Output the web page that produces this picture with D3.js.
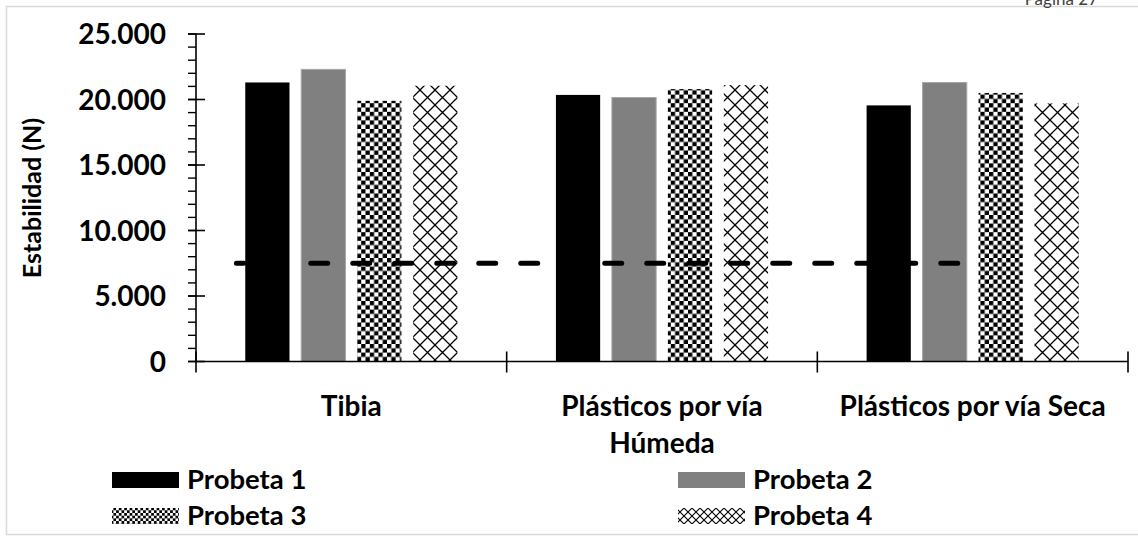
<!DOCTYPE html>
<html>
<head>
<meta charset="utf-8">
<script src="https://cdn.jsdelivr.net/npm/d3@7"></script>
<style>
  body { margin: 0; background: #fff; }
  svg { display: block; font-family: Lato, "Open Sans", sans-serif; }
</style>
</head>
<body>
<div id="chart"></div>
<script>
// data
var categories = ["Tibia", "Plásticos por vía Húmeda", "Plásticos por vía Seca"];
var categoryLines = [["Tibia"], ["Plásticos por vía", "Húmeda"], ["Plásticos por vía Seca"]];
var series = ["Probeta 1", "Probeta 2", "Probeta 3", "Probeta 4"];
var probeta1 = [21300, 20350, 19550];
var probeta2 = [22300, 20150, 21300];
var probeta3 = [19900, 20800, 20500];
var probeta4 = [21050, 21100, 19700];
var yTicks = [0, 5000, 10000, 15000, 20000, 25000];
var refValue = 7500;       // dashed reference line
var refSpan = [0.13, 2.46]; // where it runs, in category units

var values = [probeta1, probeta2, probeta3, probeta4];

var chart_width = 1138;
var chart_height = 536;

var svg = d3.select('#chart')
    .append('svg')
    .attr('width', chart_width)
    .attr('height', chart_height);

svg.append('rect')
    .attr('width', chart_width)
    .attr('height', chart_height)
    .attr('fill', '#fff');

// patterns
var defs = svg.append('defs');

function checker(id, s) {
    var p = defs.append('pattern').attr('id', id)
        .attr('patternUnits', 'userSpaceOnUse')
        .attr('width', s * 2).attr('height', s * 2);
    p.append('rect').attr('width', s * 2).attr('height', s * 2).attr('fill', '#fff');
    p.append('rect').attr('width', s).attr('height', s).attr('fill', '#000');
    p.append('rect').attr('x', s).attr('y', s).attr('width', s).attr('height', s).attr('fill', '#000');
}
function cross(id, s, w) {
    var p = defs.append('pattern').attr('id', id)
        .attr('patternUnits', 'userSpaceOnUse')
        .attr('width', s).attr('height', s);
    p.append('rect').attr('width', s).attr('height', s).attr('fill', '#fff');
    p.append('path')
        .attr('d', 'M0,0L' + s + ',' + s + 'M' + s + ',0L0,' + s)
        .attr('stroke', '#000')
        .attr('stroke-width', w);
}
checker('chk', 4.3);
checker('chkSmall', 2.7);
cross('crs', 15, 1.3);
cross('crsSmall', 8, 1.1);

var fills = ['#000000', '#808080', 'url(#chk)', 'url(#crs)'];
var legendFills = ['#000000', '#808080', 'url(#chkSmall)', 'url(#crsSmall)'];
var strokes = ['none', '#a6a6a6', 'none', 'none'];

// frame
svg.append('rect')
    .attr('x', 6.5).attr('y', 6.5)
    .attr('width', 1140).attr('height', 528)
    .attr('fill', 'none')
    .attr('stroke', '#d9d9d9')
    .attr('stroke-width', 1.5);

svg.append('text')
    .text('Página 27')
    .attr('x', 1098).attr('y', 5)
    .attr('text-anchor', 'end')
    .attr('font-size', 17)
    .attr('fill', '#404040');

// scales
var plotLeft = 196, plotRight = 1128, plotTop = 34, plotBottom = 361.5;

var x0 = d3.scaleBand()
    .domain(categories)
    .range([plotLeft, plotRight])
    .paddingInner(0).paddingOuter(0);

var x1 = d3.scaleBand()
    .domain(series)
    .range([0, x0.bandwidth()])
    .paddingInner(0.21).paddingOuter(0.88);

var xc = d3.scaleLinear().domain([0, categories.length]).range([plotLeft, plotRight]);

var y = d3.scaleLinear().domain([0, 25000]).range([plotBottom, plotTop]);

var fmt = d3.formatLocale({decimal: ',', thousands: '.', grouping: [3], currency: ['', '']}).format(',d');

// bars
series.forEach(function (s, i) {
    svg.append('g').selectAll('rect')
        .data(values[i])
        .enter().append('rect')
        .attr('x', function (d, j) { return x0(categories[j]) + x1(s); })
        .attr('y', function (d) { return y(d); })
        .attr('width', x1.bandwidth())
        .attr('height', function (d) { return y(0) - y(d); })
        .attr('fill', fills[i])
        .attr('stroke', strokes[i])
        .attr('stroke-width', 1);
});

// dashed reference line, drawn right to left so it ends on a dash
svg.append('line')
    .attr('x1', xc(refSpan[1]) - 2.5).attr('x2', xc(refSpan[0]))
    .attr('y1', y(refValue)).attr('y2', y(refValue))
    .attr('stroke', '#000')
    .attr('stroke-width', 5)
    .attr('stroke-linecap', 'round')
    .attr('stroke-dasharray', '17,25');

// y axis
var yAxis = svg.append('g');
yAxis.append('line')
    .attr('x1', plotLeft).attr('x2', plotLeft)
    .attr('y1', y(25000)).attr('y2', y(0))
    .attr('stroke', '#000').attr('stroke-width', 1.6);
yAxis.selectAll('.minor')
    .data(d3.range(0, 25001, 1000))
    .enter().append('line')
    .attr('x1', plotLeft - 8).attr('x2', plotLeft)
    .attr('y1', function (d) { return y(d); }).attr('y2', function (d) { return y(d); })
    .attr('stroke', '#000').attr('stroke-width', 1.4);
yAxis.selectAll('.major')
    .data(yTicks)
    .enter().append('line')
    .attr('x1', plotLeft - 8).attr('x2', plotLeft + 9)
    .attr('y1', function (d) { return y(d); }).attr('y2', function (d) { return y(d); })
    .attr('stroke', '#000').attr('stroke-width', 1.6);
yAxis.selectAll('text')
    .data(yTicks)
    .enter().append('text')
    .text(function (d) { return fmt(d); })
    .attr('x', 166)
    .attr('y', function (d) { return y(d); })
    .attr('dy', '0.36em')
    .attr('text-anchor', 'end')
    .attr('font-size', 28)
    .attr('font-weight', 'bold');

svg.append('text')
    .text('Estabilidad (N)')
    .attr('transform', 'translate(41,198) rotate(-90)')
    .attr('text-anchor', 'middle')
    .attr('font-size', 25)
    .attr('font-weight', 'bold');

// x axis
var xAxis = svg.append('g');
xAxis.append('line')
    .attr('x1', plotLeft).attr('x2', plotRight)
    .attr('y1', y(0)).attr('y2', y(0))
    .attr('stroke', '#000').attr('stroke-width', 1.6);
xAxis.selectAll('.tick')
    .data(d3.range(0, categories.length + 1))
    .enter().append('line')
    .attr('x1', function (d) { return xc(d); }).attr('x2', function (d) { return xc(d); })
    .attr('y1', y(0) - 10).attr('y2', y(0) + 11)
    .attr('stroke', '#000').attr('stroke-width', 1.6);

categories.forEach(function (c, i) {
    var t = xAxis.append('text')
        .attr('text-anchor', 'middle')
        .attr('font-size', 28)
        .attr('font-weight', 'bold');
    categoryLines[i].forEach(function (ln, k) {
        t.append('tspan')
            .attr('x', x0(c) + x0.bandwidth() / 2)
            .attr('y', 416 + k * 37)
            .text(ln);
    });
});

// legend
var legend = svg.append('g');
series.forEach(function (s, i) {
    var col = i % 2, row = Math.floor(i / 2);
    var lx = col === 0 ? 112 : 678;
    var ly = 472 + row * 36;
    legend.append('rect')
        .attr('x', lx).attr('y', ly)
        .attr('width', 67).attr('height', 16)
        .attr('fill', legendFills[i]);
    legend.append('text')
        .text(s)
        .attr('x', lx + 75).attr('y', ly + 17)
        .attr('font-size', 27.5)
        .attr('font-weight', 'bold');
});
</script>
</body>
</html>
